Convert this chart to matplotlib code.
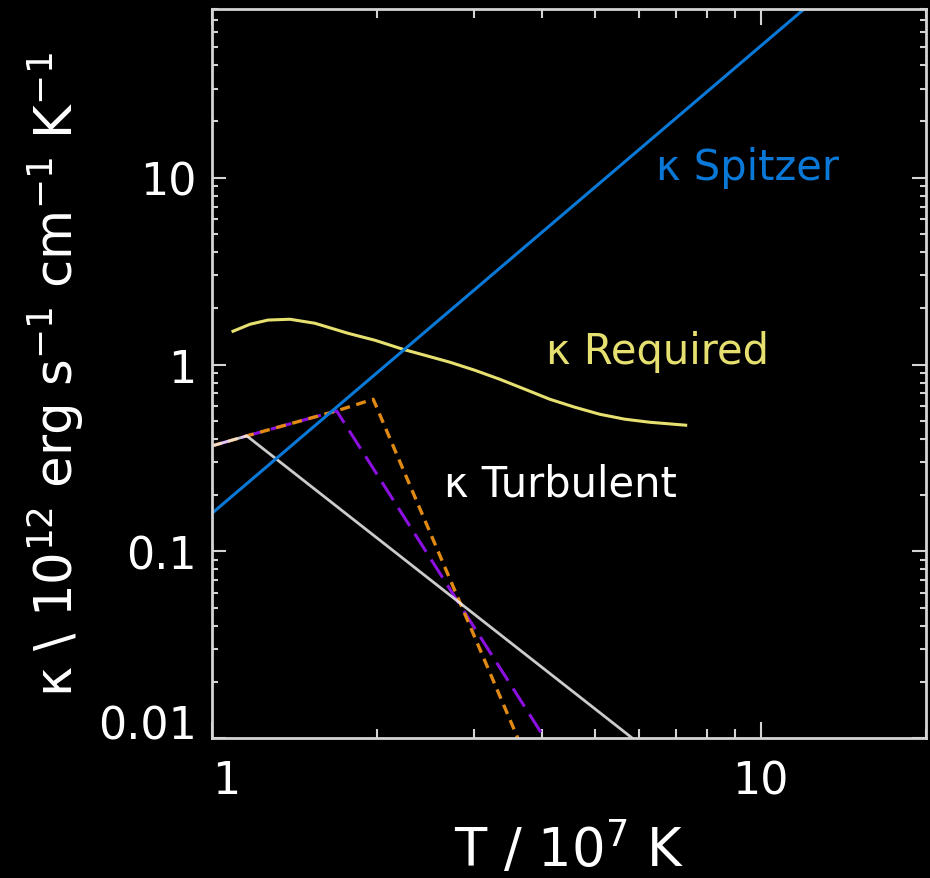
import matplotlib
matplotlib.use("Agg")
import matplotlib.pyplot as plt

plt.rcParams['font.family'] = ['DejaVu Sans']
plt.rcParams['mathtext.default'] = 'regular'

# temperature in 1e7 K, conductivity in 1e12 erg/s/cm/K
T_spitzer = [1.0, 13.0]
k_spitzer = [0.16, 97.5]

T_required = [1.092, 1.173, 1.265, 1.387, 1.540, 1.769, 1.981, 2.228, 2.443, 2.714,
              3.013, 3.346, 3.716, 4.128, 4.584, 5.089, 5.653, 6.280, 7.302]
k_required = [1.507, 1.643, 1.73, 1.747, 1.663, 1.470, 1.349, 1.207, 1.121, 1.029,
              0.932, 0.834, 0.738, 0.652, 0.591, 0.542, 0.510, 0.491, 0.4735]

T_turb = [1.0, 1.157, 5.84]
k_turb = [0.367, 0.415, 0.01]

T_turb_purple = [1.0, 1.157, 1.687, 4.04]
k_turb_purple = [0.367, 0.415, 0.565, 0.01]

T_turb_orange = [1.0, 1.157, 1.687, 1.967, 3.61]
k_turb_orange = [0.367, 0.415, 0.565, 0.652, 0.01]

fg = '#d4d4d4'

fig = plt.figure(figsize=(9.3, 8.79), dpi=100, facecolor='black')
ax = fig.add_axes([0.228, 0.159, 0.7674, 0.8297], facecolor='black')

ax.plot(T_turb_purple, k_turb_purple, color='#8c10e0', lw=2.2, dashes=(7, 3))
ax.plot(T_turb_orange, k_turb_orange, color='#e08a14', lw=2.4, dashes=(3, 2))
ax.plot(T_turb, k_turb, color='#f0f0f0', lw=2.0, alpha=0.85)
ax.plot(T_required, k_required, color='#e6e070', lw=2.2, solid_joinstyle='round')
ax.plot(T_spitzer, k_spitzer, color='#0a78d7', lw=2.2)

ax.set_xscale('log')
ax.set_yscale('log')
ax.set_xlim(1, 20)
ax.set_ylim(0.01, 80)

ax.set_xticks([1, 10])
ax.set_xticklabels(['1', '10'])
ax.set_yticks([0.01, 0.1, 1, 10])
ax.set_yticklabels(['0.01', '0.1', '1', '10'])

for s in ax.spines.values():
    s.set_color(fg)
    s.set_linewidth(2.0)

ax.tick_params(which='both', direction='in', top=True, right=True, colors=fg, labelcolor='white')
ax.tick_params(axis='x', which='major', length=11.5, width=1.5, pad=15, labelsize=32)
ax.tick_params(axis='x', which='minor', length=6.5, width=1.5)
ax.tick_params(axis='y', which='major', length=10, width=1.5, pad=11, labelsize=32)
ax.tick_params(axis='y', which='minor', length=4.5, width=1.5)

ax.get_xticklabels()[0].set_horizontalalignment('left')
ax.get_yticklabels()[0].set_verticalalignment('baseline')

ax.set_xlabel(r'T / 10$^{7}$ K', fontsize=38, color='white')
ax.xaxis.set_label_coords(0.5, -0.113)
ax.set_ylabel(r'κ \ 10$^{12}$ erg s$^{-1}$ cm$^{-1}$ K$^{-1}$', fontsize=37, color='white')
ax.yaxis.set_label_coords(-0.177, 0.5)

ax.text(0.75, 0.783, 'κ Spitzer', transform=ax.transAxes, color='#0a78d7',
        fontsize=30, ha='center', va='center')
ax.text(0.624, 0.531, 'κ Required', transform=ax.transAxes, color='#e6e070',
        fontsize=30, ha='center', va='center')
ax.text(0.488, 0.349, 'κ Turbulent', transform=ax.transAxes, color='white',
        fontsize=30, ha='center', va='center')

fig.savefig('out.png', dpi=100, facecolor='black')
